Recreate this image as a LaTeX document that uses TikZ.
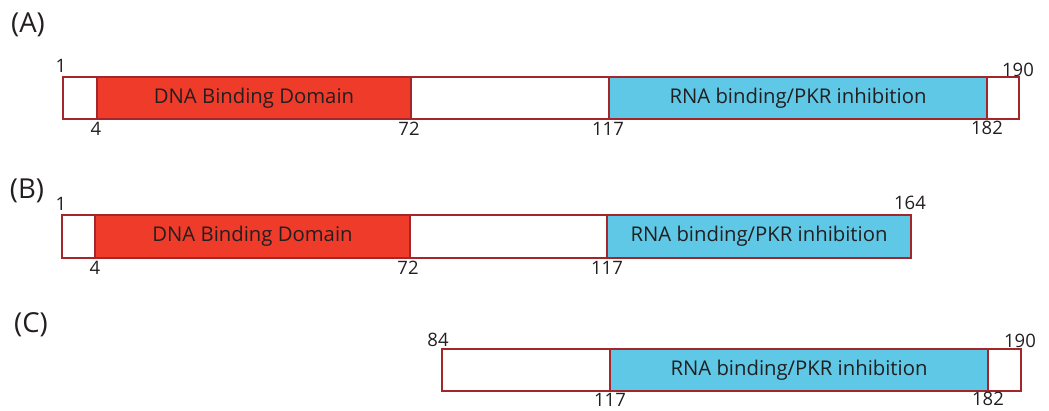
\documentclass[tikz,border=0pt]{standalone}
\usepackage{fontspec}
\setmainfont{Open Sans}
\definecolor{dbd}{HTML}{EE3B2A}
\definecolor{rbd}{HTML}{5EC8E6}
\definecolor{frame}{HTML}{A3262A}
\definecolor{ink}{HTML}{231F20}
\begin{document}
\begin{tikzpicture}[x=1pt,y=-1pt,
  protein/.style={draw=frame, line width=1.8pt, fill=white},
  segbox/.style={draw=frame, line width=1.6pt, text=ink, font=\fontsize{20.3}{20.3}\selectfont},
  dna/.style={segbox, fill=dbd},
  rna/.style={segbox, fill=rbd},
  num/.style={text=ink, font=\fontsize{18.5}{18.5}\selectfont, inner sep=0pt, anchor=base},
  panel/.style={text=ink, font=\fontsize{27.5}{27.5}\selectfont, inner sep=0pt, anchor=base}]
\useasboundingbox (0,0) rectangle (1049,410);

% (A) full-length protein, residues 1-190
\draw[protein] (63,77) rectangle (1019,119);
\draw[dna] (97,77) rectangle node (dnaA) {DNA Binding Domain} (411,119);
\draw[rna] (609,77) rectangle node (rnaA) {RNA binding/PKR inhibition} (987,119);
\node[panel] (labA) at (28,32) {(A)};
\node[num] (a1) at (61,72) {1};
\node[num] (a190) at (1018,76) {190};
\node[num] (a4) at (96,135) {4};
\node[num] (a72) at (409,135) {72};
\node[num] (a117) at (608,135) {117};
\node[num] (a182) at (987,134) {182};

% (B) truncated protein, residues 1-164
\draw[protein] (62,215) rectangle (911,258);
\draw[dna] (95,215) rectangle node (dnaB) {DNA Binding Domain} (410,258);
\draw[rna] (607,215) rectangle node (rnaB) {RNA binding/PKR inhibition} (911,258);
\node[panel] (labB) at (27,198) {(B)};
\node[num] (b1) at (61,210) {1};
\node[num] (b164) at (910,209) {164};
\node[num] (b4) at (95,274) {4};
\node[num] (b72) at (408,274) {72};
\node[num] (b117) at (607,274) {117};

% (C) N-terminal deletion, residues 84-190
\draw[protein] (442,349) rectangle (1021,391);
\draw[rna] (610,349) rectangle node (rnaC) {RNA binding/PKR inhibition} (988,391);
\node[panel] (labC) at (31,332) {(C)};
\node[num] (c84) at (438,346) {84};
\node[num] (c190) at (1020,347) {190};
\node[num] (c117) at (610,406.5) {117};
\node[num] (c182) at (988,405) {182};
\end{tikzpicture}
\end{document}
